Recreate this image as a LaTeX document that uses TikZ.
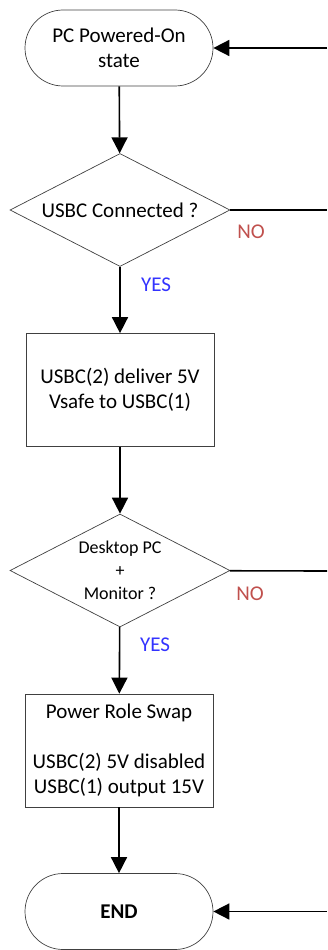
\documentclass[tikz,border=0pt]{standalone}
\usepackage{fontspec}
\setmainfont{Carlito}
\usetikzlibrary{shapes.geometric,arrows.meta}
\definecolor{nored}{RGB}{192,80,77}
\definecolor{yesblue}{RGB}{51,51,255}
\begin{document}
\begin{tikzpicture}[x=1pt,y=-1pt,
  term/.style={draw=black!75,line width=0.7pt,rectangle,rounded corners=38pt,
    minimum width=188pt,minimum height=76pt,align=center,
    font=\fontsize{21}{25}\selectfont},
  proc/.style={draw=black!75,line width=0.7pt,rectangle,
    minimum width=188pt,minimum height=113pt,align=center,
    font=\fontsize{21}{25}\selectfont},
  decide/.style={draw=black!75,line width=0.7pt,diamond,aspect=1.93,inner sep=0pt,
    minimum width=220pt,minimum height=113pt,align=center},
  flow/.style={line width=1.6pt,-{Triangle[length=16pt,width=16pt]}},
  link/.style={line width=1.6pt},
  nolab/.style={text=nored,font=\fontsize{21}{25}\selectfont},
  yeslab/.style={text=yesblue,font=\fontsize{21}{25}\selectfont}]
\useasboundingbox (0,0) rectangle (327,950);

\node[term] (start) at (119,48) {PC Powered-On\\state};
\node[decide,font=\fontsize{21}{25}\selectfont] (conn) at (120,210) {USBC Connected ?};
\node[proc] (vsafe) at (120,390) {USBC(2) deliver 5V\\Vsafe to USBC(1)};
\node[decide,font=\fontsize{18}{23}\selectfont] (desk) at (120,570.5) {Desktop PC\\+\\Monitor ?};
\node[proc] (swap) at (119,750.5) {Power Role Swap\\\strut\\USBC(2) 5V disabled\\USBC(1) output 15V};
\node[term,font=\fontsize{21}{25}\selectfont\bfseries] (stop) at (119,911.5) {END};

\coordinate (back) at (327,48);
\coordinate (noA) at (327,210);
\coordinate (noB) at (327,571);
\coordinate (tostop) at (327,911.5);

\draw[flow] (start) -- (conn);
\draw[flow] (conn) -- (vsafe);
\draw[flow] (vsafe) -- (desk);
\draw[flow] (desk) -- (swap);
\draw[flow] (swap) -- (stop);
\draw[link] (conn) -- (noA);
\draw[link] (desk) -- (noB);
\draw[flow] (back) -- (start);
\draw[flow] (tostop) -- (stop);

\node[nolab] (no1) at (251,232) {NO};
\node[yeslab] (yes1) at (156,285) {YES};
\node[nolab] (no2) at (250,594) {NO};
\node[yeslab] (yes2) at (155,645) {YES};
\end{tikzpicture}
\end{document}
